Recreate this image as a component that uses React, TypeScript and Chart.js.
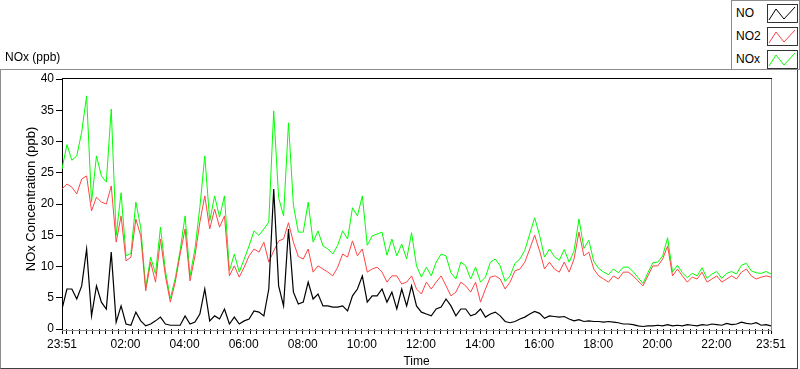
import React, { useEffect, useRef } from 'react';
import { Chart, registerables } from 'chart.js';

Chart.register(...registerables);

const FONT = "'Liberation Sans', Arial, sans-serif";

// sample times: minutes after 23:51, every 10 minutes
const sampleMinutes: number[] = Array.from({ length: 145 }, (_, i) => i * 10);

const noValues = [
  3.2, 6.4, 6.4, 4.8, 6.9, 12.8, 2.1, 6.9, 4.3, 3.2,
  12.3, 1.1, 3.7, 0.8, 0.6, 2.7, 1.3, 0.5, 0.8, 1.3,
  1.9, 0.8, 0.6, 0.6, 0.6, 2.1, 0.8, 1.1, 2.4, 6.4,
  1.3, 2.1, 1.6, 3.2, 0.8, 1.9, 0.8, 1.3, 1.6, 2.9,
  2.7, 2.1, 6.4, 22.4, 6.9, 3.7, 16.0, 5.9, 4.0, 4.3,
  7.5, 4.8, 5.6, 3.7, 3.7, 3.5, 3.5, 3.7, 2.9, 5.3,
  6.4, 8.5, 4.3, 5.3, 5.3, 6.4, 4.3, 5.9, 3.2, 6.4,
  3.7, 6.9, 3.7, 2.7, 2.4, 2.1, 3.2, 3.5, 4.8, 3.7,
  2.1, 3.2, 3.2, 2.1, 2.4, 3.2, 1.9, 2.4, 2.7, 2.1,
  1.2, 1.0, 1.2, 1.6, 1.9, 2.4, 2.8, 2.5, 1.7, 2.1,
  2.0, 1.9, 2.0, 1.6, 1.3, 1.5, 1.2, 1.3, 1.2, 1.2,
  1.1, 1.2, 1.1, 1.0, 0.8, 0.8, 0.7, 0.5, 0.4, 0.5,
  0.5, 0.6, 0.5, 0.7, 0.5, 0.6, 0.5, 0.7, 0.6, 0.5,
  0.7, 0.6, 0.8, 0.7, 0.6, 0.9, 0.7, 0.8, 1.1, 0.9,
  0.8, 1.0, 0.6, 0.7, 0.5,
];

const no2Values = [
  22.4, 23.2, 22.7, 21.6, 24.0, 24.5, 18.9, 21.1, 20.3, 20.0,
  22.9, 13.9, 18.1, 10.9, 11.5, 17.6, 14.9, 6.1, 10.7, 7.5,
  14.4, 8.5, 4.3, 7.5, 12.0, 16.0, 7.7, 11.7, 17.1, 21.3,
  16.0, 19.2, 16.3, 18.1, 8.5, 10.1, 8.3, 9.9, 11.7, 12.8,
  12.3, 13.9, 10.7, 12.5, 14.1, 14.4, 17.0, 13.9, 11.6, 11.2,
  12.8, 9.1, 10.1, 9.6, 9.1, 8.5, 9.9, 12.0, 11.5, 14.1,
  11.7, 12.8, 9.1, 9.6, 9.9, 9.1, 7.5, 8.5, 8.5, 7.2,
  7.5, 8.5, 6.4, 5.6, 7.5, 6.4, 7.5, 8.5, 6.9, 5.3,
  5.9, 7.5, 6.9, 5.9, 7.5, 4.3, 6.4, 8.3, 8.5, 8.0,
  6.4, 7.5, 9.3, 9.6, 10.7, 12.8, 15.0, 12.5, 9.6, 10.7,
  9.6, 9.1, 10.7, 9.1, 11.2, 15.5, 11.7, 12.3, 9.6, 8.5,
  8.0, 7.5, 8.5, 8.0, 9.1, 9.1, 8.5, 7.7, 6.9, 8.5,
  10.1, 10.1, 11.2, 13.3, 8.5, 9.6, 8.5, 7.5, 8.3, 8.0,
  9.1, 7.5, 8.0, 8.5, 7.5, 8.0, 8.5, 8.0, 9.1, 9.6,
  8.5, 8.0, 8.3, 8.5, 8.3,
];

const noxValues = [
  25.6, 29.5, 27.0, 27.7, 31.5, 37.3, 20.3, 27.7, 24.5, 23.5,
  35.2, 15.0, 21.8, 11.7, 12.1, 20.3, 16.2, 6.6, 11.5, 8.8,
  16.3, 9.3, 4.9, 8.1, 12.6, 18.1, 8.5, 12.8, 19.5, 27.7,
  17.3, 21.3, 17.9, 21.3, 9.3, 12.0, 9.1, 11.2, 13.3, 15.7,
  15.0, 16.0, 17.1, 34.9, 21.0, 18.1, 33.0, 19.8, 15.5, 15.5,
  20.3, 13.9, 15.7, 13.3, 12.8, 12.0, 13.4, 15.7, 14.4, 19.4,
  18.1, 21.3, 13.4, 14.9, 15.2, 15.5, 11.8, 14.4, 11.7, 13.6,
  11.2, 15.4, 10.1, 8.3, 9.9, 8.5, 10.7, 12.0, 11.7, 9.0,
  8.0, 10.7, 10.1, 8.0, 9.9, 7.5, 8.3, 10.7, 11.2, 10.1,
  7.6, 8.5, 10.5, 11.2, 12.6, 15.2, 17.8, 15.0, 11.5, 12.8,
  11.6, 11.0, 12.7, 10.7, 12.5, 17.6, 12.9, 14.2, 10.8, 9.7,
  9.1, 8.7, 9.6, 9.0, 9.9, 9.9, 9.2, 8.2, 7.3, 9.0,
  10.6, 10.7, 11.7, 14.6, 9.1, 10.2, 9.0, 8.2, 8.9, 8.5,
  9.8, 8.1, 8.8, 9.2, 8.1, 8.9, 9.2, 8.8, 10.2, 10.5,
  9.3, 9.0, 8.9, 9.2, 8.8,
];

const xTickMinutes = [0, 129, 249, 369, 489, 609, 729, 849, 969, 1089, 1209, 1329, 1440];
const xTickLabels = ['23:51', '02:00', '04:00', '06:00', '08:00', '10:00', '12:00', '14:00', '16:00', '18:00', '20:00', '22:00', '23:51'];

const seriesNames = ['NO', 'NO2', 'NOx'];
const seriesColors = ['#000000', '#ff4444', '#00ff00'];
const yAxisTitle = 'NOx Concentration (ppb)';

function Swatch({ color }: { color: string }) {
  return (
    <svg width={29} height={17} style={{ display: 'block' }}>
      <polyline points="1,15 8,4 16,14 27,2" fill="none" stroke={color} strokeWidth={1} />
    </svg>
  );
}

export default function App() {
  const ref = useRef<HTMLCanvasElement>(null);

  useEffect(() => {
    document.body.style.margin = '0';
    const minor: number[] = [];
    for (let k = 0; ; k++) {
      const t = 9 + (k * 40) / 3;
      if (t >= 1440) break;
      minor.push(t);
    }
    const allTicks = [...xTickMinutes, ...minor.filter((t) => !xTickMinutes.some((m) => Math.abs(m - t) < 0.5))].sort((a, b) => a - b);

    const framePlugin = {
      id: 'frame',
      afterDatasetsDraw(chart: any) {
        const { ctx, chartArea: a } = chart;
        ctx.save();
        ctx.lineWidth = 1;
        ctx.strokeStyle = '#000';
        ctx.beginPath();
        ctx.moveTo(a.left, a.top - 0.5);
        ctx.lineTo(a.right + 1, a.top - 0.5);
        ctx.stroke();
        ctx.strokeStyle = '#8c8c8c';
        ctx.beginPath();
        ctx.moveTo(a.right + 0.5, a.top);
        ctx.lineTo(a.right + 0.5, a.bottom + 2);
        ctx.moveTo(a.left, a.bottom + 1.5);
        ctx.lineTo(a.right + 1, a.bottom + 1.5);
        ctx.stroke();
        // y axis title
        ctx.translate(31, 199);
        ctx.rotate(-Math.PI / 2);
        ctx.fillStyle = '#000';
        ctx.font = `13px ${FONT}`;
        ctx.textAlign = 'center';
        ctx.textBaseline = 'middle';
        ctx.fillText(yAxisTitle, 0, 0);
        ctx.restore();
      },
    };

    const values = [noValues, no2Values, noxValues];
    const chart = new Chart(ref.current!, {
      type: 'line',
      data: {
        datasets: values.map((vals, s) => ({
          label: seriesNames[s],
          data: vals.map((v, i) => ({ x: sampleMinutes[i], y: v })),
          borderColor: seriesColors[s],
          borderWidth: s === 0 ? 1.2 : 1,
          pointRadius: 0,
          tension: 0,
          fill: false,
        })),
      },
      options: {
        animation: false,
        responsive: false,
        events: [],
        layout: { padding: { top: 79, right: 29, bottom: 0, left: 0 } },
        plugins: { legend: { display: false }, tooltip: { enabled: false } },
        scales: {
          x: {
            type: 'linear',
            min: 0,
            max: 1440,
            afterFit: (scale: any) => {
              scale.height = 40;
            },
            afterBuildTicks: (scale: any) => {
              scale.ticks = allTicks.map((v) => ({ value: v }));
            },
            grid: { display: true, drawOnChartArea: false, drawTicks: true, tickLength: 5, color: '#000' },
            border: { display: false },
            ticks: {
              autoSkip: false,
              maxRotation: 0,
              minRotation: 0,
              padding: 3,
              color: '#000',
              font: { family: FONT, size: 12 },
              callback: (value: any) => {
                const idx = xTickMinutes.findIndex((m) => Math.abs(m - Number(value)) < 0.01);
                return idx >= 0 ? xTickLabels[idx] : '';
              },
            },
            title: {
              display: true,
              text: 'Time',
              color: '#000',
              font: { family: FONT, size: 12, lineHeight: 1.2 },
              padding: { top: 0, bottom: 0 },
            },
          },
          y: {
            min: 0,
            max: 40,
            afterFit: (scale: any) => {
              scale.width = 62;
            },
            grid: { display: true, drawOnChartArea: false, drawTicks: true, tickLength: 6, color: '#000' },
            border: { display: true, color: '#000', width: 1 },
            ticks: {
              stepSize: 5,
              padding: 2,
              color: '#000',
              font: { family: FONT, size: 12 },
            },
            title: { display: false },
          },
        },
      },
      plugins: [framePlugin],
    });
    return () => chart.destroy();
  }, []);

  return (
    <div style={{ position: 'relative', width: 800, height: 369, overflow: 'hidden', background: '#fff', fontFamily: FONT }}>
      <div
        style={{
          position: 'absolute',
          left: 0,
          top: 69,
          width: 798,
          height: 300,
          boxSizing: 'border-box',
          borderTop: '1px solid #8c8c8c',
          borderLeft: '1px solid #8c8c8c',
          borderRight: '1px solid #404040',
          borderBottom: '1px solid #404040',
        }}
      />
      <canvas ref={ref} width={800} height={369} style={{ position: 'absolute', left: 0, top: 0 }} />
      <div style={{ position: 'absolute', left: 5, top: 50, fontSize: 12, lineHeight: '14px', color: '#000', whiteSpace: 'nowrap' }}>NOx (ppb)</div>
      <div
        style={{
          position: 'absolute',
          left: 731,
          top: 0,
          width: 69,
          height: 70,
          boxSizing: 'border-box',
          border: '1px solid #8c8c8c',
          background: '#fff',
        }}
      >
        {seriesNames.map((name, s) => (
          <div key={name} style={{ position: 'absolute', left: 0, top: [3, 26, 49][s], width: 67, height: 19 }}>
            <div style={{ position: 'absolute', left: 4, top: 2, fontSize: 12, lineHeight: '14px', color: '#000' }}>{name}</div>
            <div
              style={{
                position: 'absolute',
                left: 35,
                top: 0,
                width: 31,
                height: 19,
                boxSizing: 'border-box',
                border: '1px solid #333',
                background: '#fff',
              }}
            >
              <Swatch color={seriesColors[s]} />
            </div>
          </div>
        ))}
      </div>
    </div>
  );
}
